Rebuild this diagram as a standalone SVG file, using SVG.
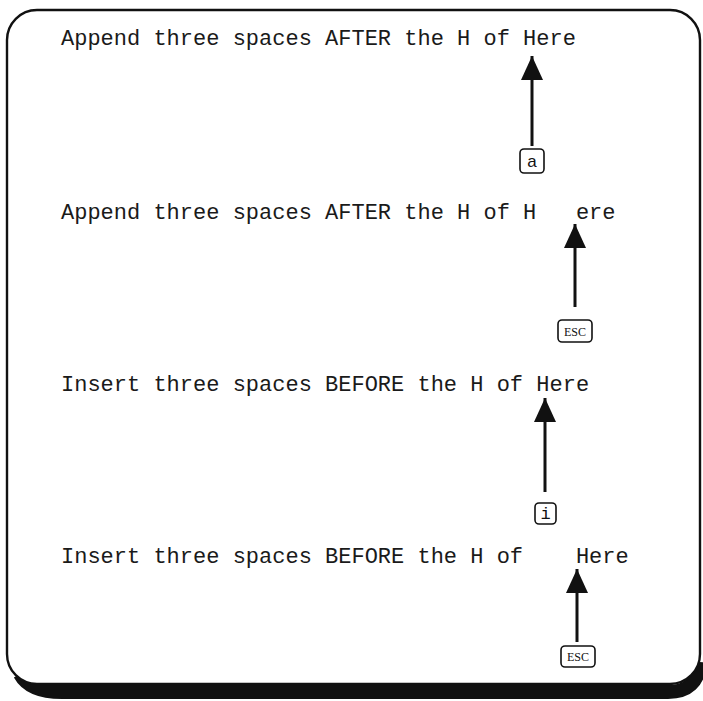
<svg xmlns="http://www.w3.org/2000/svg" width="703" height="701" viewBox="0 0 703 701">
<style>
.line{font-family:"Liberation Mono","Courier New",monospace;font-size:22px;fill:#1a1a1a;white-space:pre}
.key rect{fill:#fff;stroke:#111;stroke-width:1.6}
.shaft{stroke:#111;stroke-width:3;fill:none}
.keytxt{fill:#111;text-anchor:middle}
</style>
<defs>
<marker id="ah" markerUnits="userSpaceOnUse" markerWidth="26" markerHeight="24" viewBox="0 0 26 24" refX="25" refY="12" orient="auto">
<path d="M1,1 L25,12 L1,23 Z" fill="#111"/>
</marker>
</defs>
<rect width="703" height="701" fill="#fff"/>
<g id="frame">
<path d="M20,674 Q30,692 62,692 L668,692 Q698,692 700,662" fill="none" stroke="#111" stroke-width="14"/>
<rect x="7" y="10" width="693" height="674" rx="30" ry="30" fill="#fff" stroke="#111" stroke-width="2.4"/>
</g>
<g id="line1"><text class="line" x="61" y="45" xml:space="preserve">Append three spaces AFTER the H of Here</text></g>
<g id="line2"><text class="line" x="61" y="219" xml:space="preserve">Append three spaces AFTER the H of H   ere</text></g>
<g id="line3"><text class="line" x="61" y="391" xml:space="preserve">Insert three spaces BEFORE the H of Here</text></g>
<g id="line4"><text class="line" x="61" y="563" xml:space="preserve">Insert three spaces BEFORE the H of    Here</text></g>
<g id="connectors">
<line class="shaft" x1="532" y1="146" x2="532" y2="56" marker-end="url(#ah)"/>
<line class="shaft" x1="575" y1="307" x2="575" y2="224" marker-end="url(#ah)"/>
<line class="shaft" x1="545" y1="492" x2="545" y2="398" marker-end="url(#ah)"/>
<line class="shaft" x1="577" y1="642" x2="577" y2="569" marker-end="url(#ah)"/>
</g>
<g id="key-a" class="key"><rect x="520" y="149" width="24" height="24" rx="4"/><text class="keytxt" x="532" y="167" font-family="Liberation Sans, Arial, sans-serif" font-size="17">a</text></g>
<g id="key-esc1" class="key"><rect x="558" y="320" width="34" height="22" rx="4"/><text class="keytxt" x="575" y="336" font-family="Liberation Serif, Times New Roman, serif" font-size="12">ESC</text></g>
<g id="key-i" class="key"><rect x="535" y="503" width="21" height="21" rx="4"/><text class="keytxt" x="545.5" y="519" font-family="Liberation Mono, Courier New, monospace" font-size="17">i</text></g>
<g id="key-esc2" class="key"><rect x="561" y="646" width="34" height="21" rx="4"/><text class="keytxt" x="578" y="661" font-family="Liberation Serif, Times New Roman, serif" font-size="12">ESC</text></g>
</svg>
